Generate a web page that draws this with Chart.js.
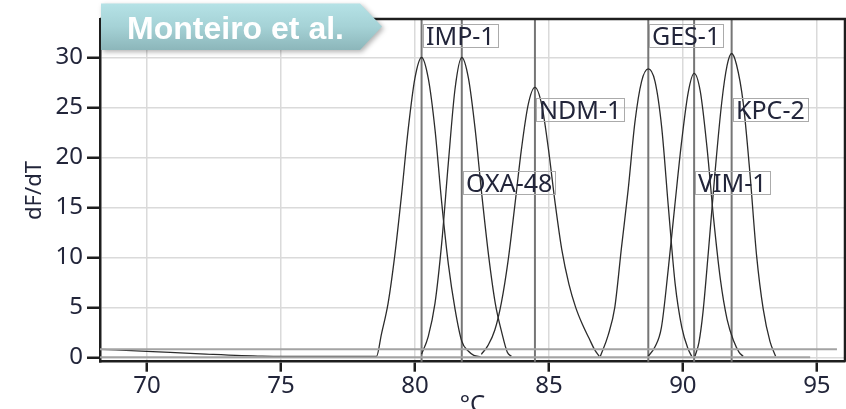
<!DOCTYPE html>
<html>
<head>
<meta charset="utf-8">
<script src="https://cdn.jsdelivr.net/npm/chart.js@4.4.1/dist/chart.umd.min.js"></script>
<style>
	body { margin: 0; background: #fff; }
	.chart-box { position: relative; width: 846px; height: 409px; }
</style>
</head>
<body>
<div class="chart-box"><canvas id="meltChart"></canvas></div>
<script>
// melt peaks (°C vs dF/dT)
const peakNames = ['IMP-1', 'OXA-48', 'NDM-1', 'GES-1', 'VIM-1', 'KPC-2'];
const peakTemps = [80.25, 81.75, 84.48, 88.71, 90.42, 91.82];
const labelLevels = [33.35, 18.67, 25.93, 33.3, 18.67, 25.95];

const xTicks = [70, 75, 80, 85, 90, 95];
const yTicks = [0, 5, 10, 15, 20, 25, 30];

const impT = [68.25, 70, 72, 74.3, 76.5, 78.3, 78.57, 78.75, 79.0, 79.25, 79.5, 79.75, 80.0, 80.25, 80.5, 80.75, 81.0, 81.25, 81.5, 81.75, 82.0, 82.2, 82.45];
const impV = [0.8, 0.6, 0.35, 0.12, 0.08, 0.08, 0.1, 2.3, 5.4, 10.2, 16.2, 22.8, 27.9, 30.0, 27.9, 22.8, 15.5, 9.3, 4.8, 1.6, 0.6, 0.2, 0.05];

const oxaT = [80.25, 80.5, 80.75, 81.0, 81.25, 81.5, 81.75, 82.0, 82.25, 82.5, 82.75, 83.0, 83.25, 83.45, 83.6];
const oxaV = [0.3, 2.1, 5.4, 11.4, 19.5, 26.9, 30.0, 27.9, 22.8, 16.2, 10.2, 5.4, 2.4, 0.5, 0.1];

const ndmT = [82.48, 82.73, 82.98, 83.23, 83.48, 83.73, 83.98, 84.23, 84.48, 84.73, 84.98, 85.23, 85.48, 85.75, 86.0, 86.25, 86.5, 86.7, 86.88];
const ndmV = [0.3, 1.2, 2.7, 5.5, 9.7, 15.2, 20.9, 25.3, 27.0, 25.3, 20.9, 15.5, 10.8, 7.3, 5.0, 3.3, 1.9, 0.8, 0.1];

const gesT = [86.92, 87.21, 87.46, 87.71, 87.96, 88.21, 88.46, 88.71, 88.96, 89.21, 89.46, 89.71, 89.96, 90.2, 90.33];
const gesV = [0.1, 2.2, 5.0, 11.0, 16.8, 23.5, 27.6, 28.85, 27.6, 23.0, 15.0, 7.4, 3.0, 0.8, 0.1];

const vimT = [88.7, 88.95, 89.2, 89.45, 89.7, 89.95, 90.2, 90.42, 90.65, 90.9, 91.15, 91.4, 91.65, 91.9, 92.1, 92.25];
const vimV = [0.1, 1.0, 3.0, 8.7, 15.2, 21.5, 26.5, 28.4, 26.6, 21.0, 13.8, 7.8, 3.8, 1.6, 0.5, 0.1];

const kpcT = [90.45, 90.6, 90.75, 90.95, 91.2, 91.45, 91.65, 91.82, 92.0, 92.25, 92.5, 92.75, 93.0, 93.25, 93.46];
const kpcV = [0.1, 1.5, 4.5, 10.5, 18.5, 25.5, 29.2, 30.4, 29.3, 25.5, 18.5, 10.2, 4.8, 1.6, 0.1];

// flat gray baselines
const baseHiT = [68.25, 95.75];
const baseHiV = [0.8, 0.8];
const baseLoT = [68.25, 94.75];
const baseLoV = [0, 0];

const INK = '#22253a';
const FONT = '"Noto Sans", "Open Sans", sans-serif';

const toPoints = (ts, vs) => ts.map((t, i) => ({ x: t, y: vs[i] }));

function curveSet(ts, vs) {
	return {
		data: toPoints(ts, vs),
		borderColor: '#2c2c2c',
		borderWidth: 1.3,
		pointRadius: 0,
		cubicInterpolationMode: 'monotone',
		fill: false
	};
}

function baseSet(ts, vs) {
	return {
		data: toPoints(ts, vs),
		borderColor: '#a3a3a3',
		borderWidth: 2,
		pointRadius: 0,
		fill: false
	};
}

// peak markers, labels, frame, titles and the badge
const overlayPlugin = {
	id: 'overlay',
	beforeDatasetsDraw(chart) {
		const { ctx, chartArea, scales: { x } } = chart;
		ctx.save();
		ctx.strokeStyle = '#767676';
		ctx.lineWidth = 2;
		peakTemps.forEach(t => {
			const px = x.getPixelForValue(t);
			ctx.beginPath();
			ctx.moveTo(px, chartArea.top);
			ctx.lineTo(px, chartArea.bottom);
			ctx.stroke();
		});
		ctx.restore();
	},
	afterDraw(chart) {
		const { ctx, chartArea, scales: { x, y } } = chart;
		ctx.save();

		// label boxes
		ctx.font = '25px ' + FONT;
		peakNames.forEach((name, i) => {
			const left = Math.round(x.getPixelForValue(peakTemps[i])) + 1;
			const top = Math.round(y.getPixelForValue(labelLevels[i]));
			const w = Math.round(ctx.measureText(name).width) + 6;
			ctx.strokeStyle = '#ababab';
			ctx.lineWidth = 1;
			ctx.strokeRect(left + 0.5, top + 0.5, w, 23);
			ctx.fillStyle = INK;
			ctx.textAlign = 'left';
			ctx.textBaseline = 'alphabetic';
			ctx.fillText(name, left + 3, top + 21);
		});

		// top and right frame
		ctx.strokeStyle = '#1e1e1e';
		ctx.lineWidth = 2.5;
		ctx.beginPath();
		ctx.moveTo(chartArea.left, chartArea.top);
		ctx.lineTo(chartArea.right, chartArea.top);
		ctx.lineTo(chartArea.right, chartArea.bottom);
		ctx.stroke();

		// axis titles
		ctx.fillStyle = INK;
		ctx.font = '24px ' + FONT;
		ctx.textAlign = 'center';
		ctx.fillText('°C', (chartArea.left + chartArea.right) / 2, 412);

		ctx.save();
		ctx.translate(41, 190.5);
		ctx.rotate(-Math.PI / 2);
		ctx.font = '22px ' + FONT;
		ctx.fillText('dF/dT', 0, 0);
		ctx.restore();

		// "Monteiro et al." badge
		ctx.save();
		ctx.shadowColor = 'rgba(0, 0, 0, 0.3)';
		ctx.shadowBlur = 5;
		ctx.shadowOffsetX = 2;
		ctx.shadowOffsetY = 2;
		const grad = ctx.createLinearGradient(0, 3.5, 0, 50);
		grad.addColorStop(0, '#b5e2e6');
		grad.addColorStop(0.5, '#a5d2d6');
		grad.addColorStop(1, '#8cb6ba');
		ctx.fillStyle = grad;
		ctx.beginPath();
		ctx.moveTo(101, 3.5);
		ctx.lineTo(360, 3.5);
		ctx.lineTo(382, 26.5);
		ctx.lineTo(360, 50);
		ctx.lineTo(101, 50);
		ctx.closePath();
		ctx.fill();
		ctx.restore();

		ctx.fillStyle = '#ffffff';
		ctx.font = 'bold 32px "Liberation Sans", Arial, sans-serif';
		ctx.textAlign = 'center';
		ctx.fillText('Monteiro et al.', 235.5, 39);

		ctx.restore();
	}
};

function initMeltChart() {
	const ctx = document.getElementById('meltChart');

	if (!ctx) return;

	new Chart(ctx, {
		type: 'line',
		data: {
			datasets: [
				baseSet(baseHiT, baseHiV),
				baseSet(baseLoT, baseLoV),
				curveSet(impT, impV),
				curveSet(oxaT, oxaV),
				curveSet(ndmT, ndmV),
				curveSet(gesT, gesV),
				curveSet(vimT, vimV),
				curveSet(kpcT, kpcV)
			]
		},
		options: {
			responsive: true,
			maintainAspectRatio: false,
			animation: false,
			layout: {
				padding: { top: 19, right: 1, left: 0, bottom: 0 }
			},
			plugins: {
				legend: { display: false },
				tooltip: { enabled: false }
			},
			scales: {
				x: {
					type: 'linear',
					min: 68.25,
					max: 96.05,
					afterFit: scale => { scale.height = 47.3; },
					afterBuildTicks: scale => { scale.ticks = xTicks.map(v => ({ value: v })); },
					grid: {
						color: '#dadada',
						lineWidth: 1.5,
						tickColor: '#1e1e1e',
						tickWidth: 2.5,
						tickLength: 10
					},
					border: { color: '#1e1e1e', width: 2.5 },
					ticks: {
						color: INK,
						padding: 0,
						maxRotation: 0,
						font: { family: FONT, size: 24 }
					}
				},
				y: {
					min: -0.44,
					max: 33.85,
					afterFit: scale => { scale.width = 100; },
					afterBuildTicks: scale => { scale.ticks = yTicks.map(v => ({ value: v })); },
					grid: {
						color: '#dadada',
						lineWidth: 1.5,
						tickColor: '#1e1e1e',
						tickWidth: 2.5,
						tickLength: 13
					},
					border: { color: '#1e1e1e', width: 2.5 },
					ticks: {
						color: INK,
						padding: 4,
						font: { family: FONT, size: 24 }
					}
				}
			}
		},
		plugins: [overlayPlugin]
	});
}

document.addEventListener('DOMContentLoaded', () => {
	initMeltChart();
});
</script>
</body>
</html>
